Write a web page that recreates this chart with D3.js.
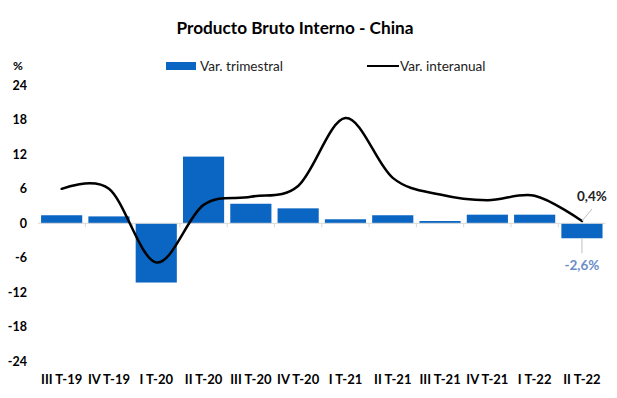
<!DOCTYPE html>
<html><head><meta charset="utf-8">
<script src="https://cdn.jsdelivr.net/npm/d3@7"></script>
<style>
html,body{margin:0;padding:0;background:#fff;}
svg{display:block;font-family:Lato,"Open Sans",sans-serif;}
</style></head>
<body>
<svg id="chart" width="617" height="398"></svg>
<script>
const categories = ["III T-19","IV T-19","I T-20","II T-20","III T-20","IV T-20","I T-21","II T-21","III T-21","IV T-21","I T-22","II T-22"];
const varTrimestral = [1.4, 1.2, -10.3, 11.6, 3.4, 2.6, 0.7, 1.4, 0.4, 1.5, 1.5, -2.6];
const varInteranual = [6.0, 6.0, -6.8, 3.2, 4.6, 6.5, 18.3, 7.9, 5.0, 4.0, 4.8, 0.4];
const yTicks = [-24, -18, -12, -6, 0, 6, 12, 18, 24];
const seriesNames = ["Var. trimestral", "Var. interanual"];
const titleText = "Producto Bruto Interno - China";

const svg = d3.select("#chart");
const barColor = "#0b66c3";
const fmtPct = v => v.toFixed(1).replace(".", ",") + "%";

const x = d3.scaleBand().domain(categories).range([38, 605.6]).paddingInner(0.13).paddingOuter(0.065);
const y = d3.scaleLinear().domain([-24, 24]).range([361.3, 85.3]);

// title
svg.append("text").attr("x", 295).attr("y", 34).attr("text-anchor", "middle")
  .attr("font-size", 17.2).attr("font-weight", "bold").attr("fill", "#000").text(titleText);

// % unit
svg.append("text").attr("x", 18).attr("y", 70).attr("text-anchor", "middle")
  .attr("font-size", 12).attr("font-weight", "bold").text("%");

// legend
svg.append("rect").attr("x", 166).attr("y", 62).attr("width", 30).attr("height", 8).attr("fill", barColor);
svg.append("text").attr("x", 200).attr("y", 70.5).attr("font-size", 13.6).attr("fill", "#222").text(seriesNames[0]);
svg.append("line").attr("x1", 367).attr("x2", 399).attr("y1", 66).attr("y2", 66).attr("stroke", "#000").attr("stroke-width", 2);
svg.append("text").attr("x", 400).attr("y", 70.5).attr("font-size", 13.6).attr("fill", "#222").text(seriesNames[1]);

// y axis
const yAxis = svg.append("g").attr("transform", "translate(27,0)")
  .call(d3.axisLeft(y).tickValues(yTicks).tickSize(0).tickPadding(0).tickFormat(d => String(d)));
yAxis.select(".domain").remove();
yAxis.selectAll("text").attr("font-size", 12.5).attr("font-weight", "bold").attr("fill", "#000")
  .attr("font-family", "Lato, sans-serif");

// bars
svg.append("g").selectAll("rect").data(categories).join("rect")
  .attr("x", d => x(d))
  .attr("width", x.bandwidth())
  .attr("y", (d, i) => y(Math.max(0, varTrimestral[i])))
  .attr("height", (d, i) => Math.abs(y(varTrimestral[i]) - y(0)))
  .attr("fill", barColor);

// zero axis with boundary ticks
const step = x.step();
const zeroAxis = svg.append("g").attr("transform", `translate(0,${y(0)})`)
  .call(d3.axisBottom(x).tickSize(0).tickFormat(""));
zeroAxis.select(".domain").attr("stroke", "#d9d9d9").attr("stroke-width", 1)
  .attr("d", `M${x.range()[0]},0H${x.range()[1]}`);
const bounds = categories.map(c => x(c) - step * x.paddingInner() / 2).slice(1);
zeroAxis.selectAll("line.bnd").data(bounds).join("line").attr("class", "bnd")
  .attr("x1", d => d).attr("x2", d => d).attr("y1", 0).attr("y2", 4)
  .attr("stroke", "#d9d9d9");

// x labels
const xAxis = svg.append("g").attr("transform", "translate(0,372)")
  .call(d3.axisBottom(x).tickSize(0).tickPadding(0));
xAxis.select(".domain").remove();
xAxis.selectAll("text").attr("font-size", 13).attr("font-weight", "bold").attr("fill", "#000")
  .attr("font-family", "Lato, sans-serif").attr("dy", "0.9em");

// line
const pts = categories.map((c, i) => [x(c) + x.bandwidth() / 2, y(varInteranual[i])]);
svg.append("path").datum(pts)
  .attr("d", d3.line().curve(d3.curveCardinal.tension(0)))
  .attr("fill", "none").attr("stroke", "#000").attr("stroke-width", 2.5)
  .attr("stroke-linecap", "round");

// data labels for last point
const last = categories.length - 1;
const lx = pts[last][0], ly = pts[last][1];
svg.append("line").attr("x1", lx).attr("y1", ly).attr("x2", lx + 10).attr("y2", ly - 12)
  .attr("stroke", "#bfbfbf").attr("stroke-width", 1);
svg.append("text").attr("x", lx + 10).attr("y", ly - 20).attr("text-anchor", "middle")
  .attr("font-size", 13.5).attr("font-weight", "bold").attr("fill", "#222")
  .text(fmtPct(varInteranual[last]));

const bx = x(categories[last]) + x.bandwidth() / 2, by = y(varTrimestral[last]);
svg.append("line").attr("x1", bx).attr("y1", by).attr("x2", bx).attr("y2", by + 15)
  .attr("stroke", "#bfbfbf").attr("stroke-width", 1);
svg.append("text").attr("x", bx).attr("y", by + 32).attr("text-anchor", "middle")
  .attr("font-size", 13.5).attr("font-weight", "bold").attr("fill", "#6a8cc7")
  .text(fmtPct(varTrimestral[last]));
</script>
</body></html>
